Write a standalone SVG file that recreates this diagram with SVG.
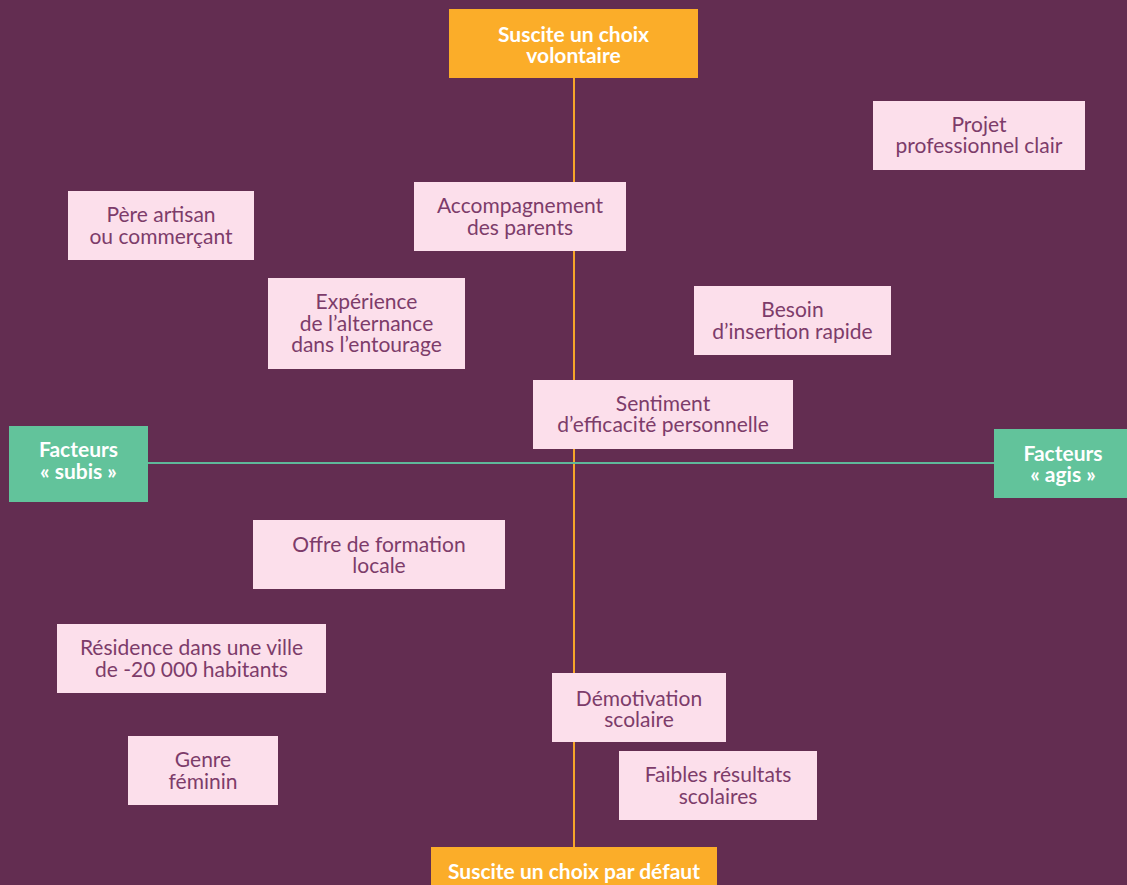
<svg xmlns="http://www.w3.org/2000/svg" width="1127" height="885" viewBox="0 0 1127 885">
<style>
.bg{fill:#632D51}
.p{fill:#FCDFEB}
.o{fill:#FBAD29}
.g{fill:#62C39B}
.t{font-family:Lato,"Open Sans","Liberation Sans",sans-serif;font-size:21px;fill:#7D3C6A;text-anchor:middle}
.b{font-family:Lato,"Open Sans","Liberation Sans",sans-serif;font-size:21px;font-weight:bold;fill:#FFFFFF;text-anchor:middle}
</style>
<rect class="bg" x="0" y="0" width="1127" height="885"/>
<g id="connectors">
<line x1="574" y1="78" x2="574" y2="848" stroke="#F6A52A" stroke-width="2"/>
<line x1="148" y1="463" x2="994" y2="463" stroke="#5FB89A" stroke-width="2"/>
</g>
<g id="top">
<rect class="o" x="449" y="9" width="249" height="69"/>
<text class="b"><tspan x="573.5" y="42">Suscite un choix</tspan><tspan x="573.5" y="63">volontaire</tspan></text>
</g>
<g id="bottom">
<rect class="o" x="431" y="847" width="286" height="45"/>
<text class="b" x="574" y="879">Suscite un choix par défaut</text>
</g>
<g id="left">
<rect class="g" x="9" y="426" width="139" height="76"/>
<text class="b"><tspan x="78.5" y="457">Facteurs</tspan><tspan x="78.5" y="479">« subis »</tspan></text>
</g>
<g id="right">
<rect class="g" x="994" y="429" width="140" height="69"/>
<text class="b"><tspan x="1063" y="461">Facteurs</tspan><tspan x="1063" y="482">« agis »</tspan></text>
</g>
<g id="projet">
<rect class="p" x="873" y="101" width="212" height="69"/>
<text class="t"><tspan x="979" y="132">Projet</tspan><tspan x="979" y="153">professionnel clair</tspan></text>
</g>
<g id="pere">
<rect class="p" x="68" y="191" width="186" height="69"/>
<text class="t"><tspan x="161" y="222">Père artisan</tspan><tspan x="161" y="244">ou commerçant</tspan></text>
</g>
<g id="accompagnement">
<rect class="p" x="414" y="182" width="212" height="69"/>
<text class="t"><tspan x="520" y="213">Accompagnement</tspan><tspan x="520" y="235">des parents</tspan></text>
</g>
<g id="experience">
<rect class="p" x="268" y="278" width="197" height="91"/>
<text class="t"><tspan x="366.5" y="309">Expérience</tspan><tspan x="366.5" y="331">de l’alternance</tspan><tspan x="366.5" y="352">dans l’entourage</tspan></text>
</g>
<g id="besoin">
<rect class="p" x="694" y="286" width="197" height="69"/>
<text class="t"><tspan x="792.5" y="317">Besoin</tspan><tspan x="792.5" y="339">d’insertion rapide</tspan></text>
</g>
<g id="sentiment">
<rect class="p" x="533" y="380" width="260" height="69"/>
<text class="t"><tspan x="663" y="411">Sentiment</tspan><tspan x="663" y="432">d’efficacité personnelle</tspan></text>
</g>
<g id="offre">
<rect class="p" x="253" y="520" width="252" height="69"/>
<text class="t"><tspan x="379" y="552">Offre de formation</tspan><tspan x="379" y="573">locale</tspan></text>
</g>
<g id="residence">
<rect class="p" x="57" y="624" width="269" height="69"/>
<text class="t"><tspan x="191.5" y="655">Résidence dans une ville</tspan><tspan x="191.5" y="677">de -20 000 habitants</tspan></text>
</g>
<g id="demotivation">
<rect class="p" x="552" y="673" width="174" height="69"/>
<text class="t"><tspan x="639" y="706">Démotivation</tspan><tspan x="639" y="727">scolaire</tspan></text>
</g>
<g id="genre">
<rect class="p" x="128" y="736" width="150" height="69"/>
<text class="t"><tspan x="203" y="767">Genre</tspan><tspan x="203" y="789">féminin</tspan></text>
</g>
<g id="faibles">
<rect class="p" x="619" y="751" width="198" height="69"/>
<text class="t"><tspan x="718" y="782">Faibles résultats</tspan><tspan x="718" y="804">scolaires</tspan></text>
</g>
</svg>
